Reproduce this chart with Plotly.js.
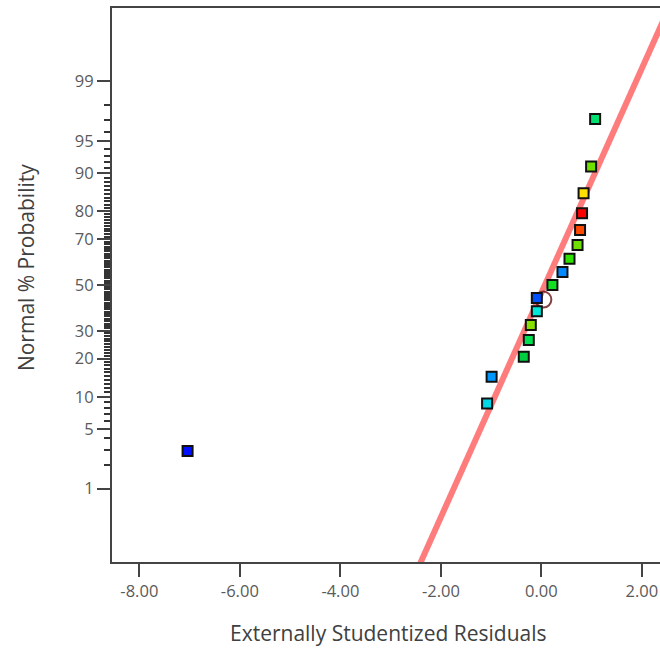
<!DOCTYPE html>
<html>
<head>
<meta charset="utf-8">
<script src="https://cdn.plot.ly/plotly-3.0.1.min.js"></script>
<style>
html,body{margin:0;padding:0;overflow:hidden;background:#fff;width:660px;height:648px;}
#chart{width:668px;height:648px;}
</style>
</head>
<body>
<div id="chart"></div>
<script>
// Data
var residuals = [-7.04, -1.08, -0.99, -0.35, -0.25, -0.21, -0.09, -0.09, 0.22, 0.42, 0.56, 0.72, 0.77, 0.81, 0.84, 0.99, 1.07];
var probPct   = [2.9, 8.8, 14.7, 20.6, 26.5, 32.4, 38.2, 44.1, 50.0, 55.9, 61.8, 67.6, 73.5, 79.4, 85.3, 91.2, 97.1];
var pointColors = ["#0010ff", "#00d8e8", "#0098ff", "#00cc40", "#00e050", "#88e000", "#00e8d8", "#0050ff",
                   "#10e020", "#0088ff", "#30e000", "#70e000", "#ff4800", "#ff0000", "#ffe000", "#70e000", "#00e070"];
var highlightX = [0.04];
var highlightPct = [43.4];
var lineMean = 0.07, lineSD = 0.78;
var majorProb = [1, 5, 10, 20, 30, 50, 70, 80, 90, 95, 99];
var minorProb = [];
for (var k = 2; k <= 98; k++) { if (majorProb.indexOf(k) < 0) minorProb.push(k); }
var xTicks = [-8, -6, -4, -2, 0, 2];
var xTickText = ["-8.00", "-6.00", "-4.00", "-2.00", "0.00", "2.00"];

// inverse standard normal (probability axis transform)
function invNorm(p) {
  var a = [-3.969683028665376e+01, 2.209460984245205e+02, -2.759285104469687e+02, 1.383577518672690e+02, -3.066479806614716e+01, 2.506628277459239e+00];
  var b = [-5.447609879822406e+01, 1.615858368580409e+02, -1.556989798598866e+02, 6.680131188771972e+01, -1.328068155288572e+01];
  var c = [-7.784894002430293e-03, -3.223964580411365e-01, -2.400758277161838e+00, -2.549732539343734e+00, 4.374664141464968e+00, 2.938163982698783e+00];
  var d = [7.784695709041462e-03, 3.224671290700398e-01, 2.445134137142996e+00, 3.754408661907416e+00];
  var pl = 0.02425, q, r;
  if (p < pl) { q = Math.sqrt(-2 * Math.log(p)); return (((((c[0]*q+c[1])*q+c[2])*q+c[3])*q+c[4])*q+c[5]) / ((((d[0]*q+d[1])*q+d[2])*q+d[3])*q+1); }
  if (p > 1 - pl) { q = Math.sqrt(-2 * Math.log(1 - p)); return -(((((c[0]*q+c[1])*q+c[2])*q+c[3])*q+c[4])*q+c[5]) / ((((d[0]*q+d[1])*q+d[2])*q+d[3])*q+1); }
  q = p - 0.5; r = q * q;
  return (((((a[0]*r+a[1])*r+a[2])*r+a[3])*r+a[4])*r+a[5])*q / (((((b[0]*r+b[1])*r+b[2])*r+b[3])*r+b[4])*r+1);
}
function toZ(arr) { return arr.map(function (v) { return invNorm(v / 100); }); }

var lineZ = [-3.5, 3.5];
var lineX = lineZ.map(function (z) { return lineMean + lineSD * z; });

var traces = [
  { x: lineX, y: lineZ, mode: "lines", line: { color: "rgba(255,110,110,0.9)", width: 6 }, hoverinfo: "skip" },
  { x: highlightX, y: toZ(highlightPct), mode: "markers",
    marker: { symbol: "circle-open", size: 16, color: "rgba(110,30,30,0.85)", line: { width: 2 } } },
  { x: residuals, y: toZ(probPct), mode: "markers",
    marker: { symbol: "square", size: 10, color: pointColors, line: { color: "#111", width: 2 } } }
];

var tickFont = { family: "Open Sans, Noto Sans, sans-serif", size: 16.5, color: "#5a5a5a" };
var titleFont = { family: "Open Sans, Noto Sans, sans-serif", size: 21, color: "#404040" };
var layout = {
  width: 668, height: 648,
  margin: { l: 112, r: 0, t: 8, b: 86 },
  paper_bgcolor: "#fff", plot_bgcolor: "#fff",
  showlegend: false,
  xaxis: {
    range: [-8.544, 2.52], showgrid: false, zeroline: false,
    showline: true, linecolor: "#444", linewidth: 2, mirror: true,
    ticks: "outside", ticklen: 13, tickwidth: 2, tickcolor: "#444",
    tickmode: "array", tickvals: xTicks, ticktext: xTickText,
    tickfont: tickFont
  },
  yaxis: {
    range: [-3.165, 3.165], showgrid: false, zeroline: false,
    showline: true, linecolor: "#444", linewidth: 2, mirror: true,
    ticks: "outside", ticklen: 13, tickwidth: 2, tickcolor: "#444",
    tickmode: "array", tickvals: toZ(majorProb), ticktext: majorProb.map(String),
    tickfont: tickFont,
    minor: { tickmode: "array", tickvals: toZ(minorProb), ticks: "outside", ticklen: 6, tickwidth: 2, tickcolor: "#333", showgrid: false }
  },
  annotations: [
    { text: "Externally Studentized Residuals", xref: "paper", yref: "paper", x: 0.497, y: -0.129, yanchor: "middle", xanchor: "center",
      showarrow: false, font: titleFont },
    { text: "Normal % Probability", xref: "paper", yref: "paper", x: -0.155, y: 0.532, textangle: -90, xanchor: "center", yanchor: "middle",
      showarrow: false, font: titleFont }
  ]
};

Plotly.newPlot("chart", traces, layout, { displayModeBar: false, staticPlot: true });
</script>
</body>
</html>
